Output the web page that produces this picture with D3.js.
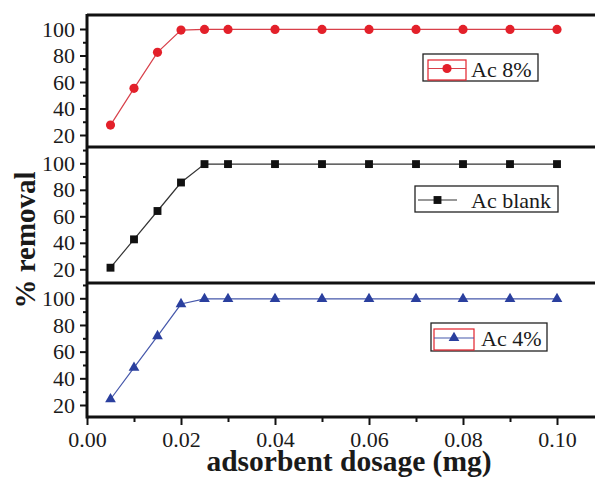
<!DOCTYPE html>
<html>
<head>
<meta charset="utf-8">
<script src="https://cdn.jsdelivr.net/npm/d3@7"></script>
<style>
body { margin: 0; background: #fff; }
svg { display: block; }
text { font-family: "Liberation Serif", "Times New Roman", serif; fill: #1a1a1a; }
</style>
</head>
<body>
<div id="chart"></div>
<script>
// data
var dosage = [0.005, 0.01, 0.015, 0.02, 0.025, 0.03, 0.04, 0.05, 0.06, 0.07, 0.08, 0.09, 0.10];
var ac8 = [27.5, 55.2, 82.4, 99.2, 99.7, 99.7, 99.7, 99.7, 99.7, 99.7, 99.7, 99.7, 99.7];
var acBlank = [21.2, 42.6, 64, 85.5, 99.4, 99.4, 99.4, 99.4, 99.4, 99.4, 99.4, 99.4, 99.4];
var ac4 = [24.3, 48, 71.7, 95.7, 99.5, 99.5, 99.5, 99.5, 99.5, 99.5, 99.5, 99.5, 99.5];
var seriesNames = ["Ac 8%", "Ac blank", "Ac 4%"];
var yMajor = [20, 40, 60, 80, 100];
var yMinor = [10, 30, 50, 70, 90, 110];
var xMajor = [0, 0.02, 0.04, 0.06, 0.08, 0.10];
var xMinor = [0.01, 0.03, 0.05, 0.07, 0.09];

var W = 595, H = 483;
var left = 87, bottom = 417;

var svg = d3.select("#chart").append("svg")
    .attr("width", W)
    .attr("height", H);

var x = d3.scaleLinear().domain([0, 0.02]).range([left, left + 94]);

// three stacked panels: top, bottom, y of 20 and y of 100
var panels = [
    {name: seriesNames[0], values: ac8, top: 15, bot: 147, y20: 135, y100: 29,
     color: "#e3202a", line: "#d8404a", mark: "circle",
     legend: {x: 423, y: 54, w: 115, h: 27, box: true, sx: 428, sw: 38, tx: 471}},
    {name: seriesNames[1], values: acBlank, top: 147, bot: 283, y20: 269.3, y100: 163.3,
     color: "#111", line: "#333", mark: "square",
     legend: {x: 415, y: 186, w: 143, h: 26, box: false, sx: 418, sw: 39, tx: 471}},
    {name: seriesNames[2], values: ac4, top: 283, bot: 417, y20: 405, y100: 298.3,
     color: "#2a3f9e", line: "#4658ab", mark: "triangle",
     legend: {x: 431, y: 323, w: 116, h: 28, box: true, sx: 434, sw: 40, tx: 481}}
];

panels.forEach(function(p) {
    var y = d3.scaleLinear().domain([20, 100]).range([p.y20, p.y100]);
    var inside = function(v) { var py = y(v); return py > p.top + 1 && py < p.bot - 1; };
    var g = svg.append("g");

    // y axis: major and minor ticks
    var major = d3.axisLeft(y).tickValues(yMajor.filter(inside)).tickSize(7).tickPadding(5);
    var minor = d3.axisLeft(y).tickValues(yMinor.filter(inside)).tickSize(4).tickFormat("");
    g.append("g").attr("transform", "translate(" + left + ",0)").call(major)
        .call(function(a) {
            a.select(".domain").remove();
            a.selectAll("line").attr("stroke", "#111").attr("stroke-width", 2);
            a.selectAll("text").attr("font-size", 22).attr("fill", "#1a1a1a");
        });
    g.append("g").attr("transform", "translate(" + left + ",0)").call(minor)
        .call(function(a) {
            a.select(".domain").remove();
            a.selectAll("line").attr("stroke", "#111").attr("stroke-width", 2);
        });

    // series line
    var line = d3.line()
        .x(function(d, i) { return x(dosage[i]); })
        .y(function(d) { return y(d); });
    g.append("path").datum(p.values)
        .attr("d", line)
        .attr("fill", "none")
        .attr("stroke", p.line)
        .attr("stroke-width", 1.2);

    var sym = {circle: d3.symbolCircle, square: d3.symbolSquare, triangle: d3.symbolTriangle}[p.mark];
    var size = {circle: 66, square: 62, triangle: 50}[p.mark];
    g.selectAll("path.pt").data(p.values).enter().append("path")
        .attr("class", "pt")
        .attr("transform", function(d, i) { return "translate(" + x(dosage[i]) + "," + y(d) + ")"; })
        .attr("d", d3.symbol().type(sym).size(size))
        .attr("fill", p.color);

    // legend
    var L = p.legend;
    var lg = g.append("g");
    lg.append("rect").attr("x", L.x).attr("y", L.y).attr("width", L.w).attr("height", L.h)
        .attr("fill", "#fff").attr("stroke", "#222").attr("stroke-width", 1.3);
    var cy = L.y + L.h / 2 + 1;
    if (L.box) {
        lg.append("rect").attr("x", L.sx).attr("y", L.y + 6).attr("width", L.sw).attr("height", L.h - 7)
            .attr("fill", "none").attr("stroke", "#e3202a").attr("stroke-width", 1.2);
    }
    lg.append("line").attr("x1", L.sx).attr("x2", L.sx + L.sw).attr("y1", cy).attr("y2", cy)
        .attr("stroke", p.line).attr("stroke-width", 1.2);
    lg.append("path")
        .attr("transform", "translate(" + (L.sx + L.sw / 2) + "," + cy + ")")
        .attr("d", d3.symbol().type(sym).size(size))
        .attr("fill", p.color);
    lg.append("text").attr("x", L.tx).attr("y", cy + 8)
        .attr("font-size", 22).text(p.name);
});

// frame lines: top border and panel separators
[15, 147, 283].forEach(function(yy) {
    svg.append("line").attr("x1", left).attr("x2", W).attr("y1", yy).attr("y2", yy)
        .attr("stroke", "#111").attr("stroke-width", 3);
});

// x axis
var xAxis = d3.axisBottom(x).tickValues(xMajor).tickSize(8).tickPadding(6)
    .tickFormat(d3.format(".2f"));
var xMinorAxis = d3.axisBottom(x).tickValues(xMinor).tickSize(5).tickFormat("");
svg.append("g").attr("transform", "translate(0," + bottom + ")").call(xAxis)
    .call(function(a) {
        a.select(".domain").remove();
        a.selectAll("line").attr("stroke", "#111").attr("stroke-width", 2);
        a.selectAll("text").attr("font-size", 22).attr("fill", "#1a1a1a");
    });
svg.append("g").attr("transform", "translate(0," + bottom + ")").call(xMinorAxis)
    .call(function(a) {
        a.select(".domain").remove();
        a.selectAll("line").attr("stroke", "#111").attr("stroke-width", 2);
    });
svg.append("line").attr("x1", left).attr("x2", W).attr("y1", bottom).attr("y2", bottom)
    .attr("stroke", "#111").attr("stroke-width", 3);

// left axis line
svg.append("line").attr("x1", left).attr("x2", left).attr("y1", 14).attr("y2", bottom + 1.5)
    .attr("stroke", "#111").attr("stroke-width", 3);

// titles
svg.append("text")
    .attr("x", 349).attr("y", 471)
    .attr("text-anchor", "middle")
    .attr("font-size", 29.5).attr("font-weight", "bold")
    .text("adsorbent dosage (mg)");
svg.append("text")
    .attr("transform", "translate(35,240) rotate(-90)")
    .attr("text-anchor", "middle")
    .attr("font-size", 29).attr("font-weight", "bold")
    .text("% removal");
</script>
</body>
</html>
